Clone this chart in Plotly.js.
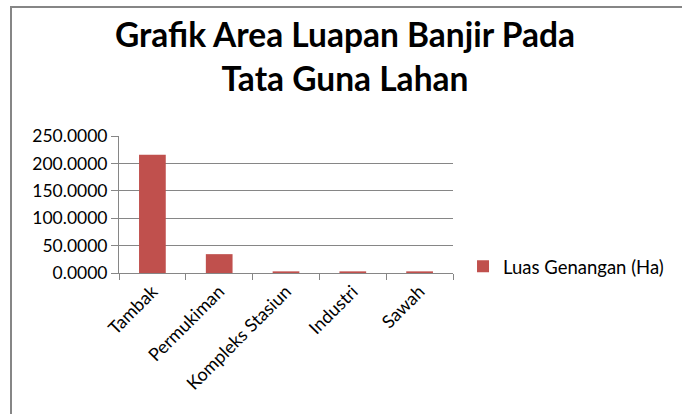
<!DOCTYPE html>
<html>
<head>
<meta charset="utf-8">
<script src="https://cdn.plot.ly/plotly-3.0.1.min.js"></script>
<style>
html,body{margin:0;padding:0;background:#fff;}
#wrap{position:relative;width:682px;height:414px;overflow:hidden;}
#frame{position:absolute;left:10px;top:6px;width:700px;height:440px;border-left:2px solid #868686;border-top:2px solid #868686;box-sizing:border-box;}
#chart{position:absolute;left:0;top:0;width:682px;height:414px;}
</style>
</head>
<body>
<div id="wrap"><div id="frame"></div><div id="chart"></div></div>
<script>
const categories = ["Tambak", "Permukiman", "Kompleks Stasiun", "Industri", "Sawah"];
const luasGenangan = [216.0, 34.4, 3.0, 3.0, 3.0];
const yTickVals = [0, 50, 100, 150, 200, 250];
const yTickText = ["0.0000", "50.0000", "100.0000", "150.0000", "200.0000", "250.0000"];
const seriesName = "Luas Genangan (Ha)";
const chartTitle = "<b>Grafik Area Luapan Banjir Pada<br>Tata Guna Lahan</b>";

const font = "Lato, 'Open Sans', sans-serif";

Plotly.newPlot("chart", [{
  type: "bar",
  x: categories,
  y: luasGenangan,
  name: seriesName,
  marker: {color: "#C0504D"},
  showlegend: true
}], {
  width: 682, height: 414,
  paper_bgcolor: "rgba(0,0,0,0)",
  plot_bgcolor: "rgba(0,0,0,0)",
  margin: {l: 119, r: 229, t: 136, b: 141},
  bargap: 0.6,
  font: {family: font, size: 18, color: "#000"},
  annotations: [{
    text: chartTitle,
    xref: "paper", yref: "paper",
    x: 0.677, y: 1.585, xanchor: "center", yanchor: "middle",
    showarrow: false,
    font: {family: font, size: 33.5, color: "#000"}
  }],
  xaxis: {
    type: "category",
    tickangle: -45,
    showline: true, linecolor: "#868686", linewidth: 1,
    ticks: "outside", ticklen: 6, tickcolor: "#868686",
    tickson: "boundaries",
    showgrid: false,
    tickfont: {family: font, size: 18, color: "#000"}
  },
  yaxis: {
    range: [0, 250],
    tickvals: yTickVals, ticktext: yTickText,
    showline: true, linecolor: "#868686", linewidth: 1,
    ticks: "outside", ticklen: 7, tickcolor: "#868686",
    showgrid: true, gridcolor: "#868686", gridwidth: 1,
    zeroline: false,
    tickfont: {family: font, size: 17.5, color: "#000"}
  },
  legend: {
    x: 1.03, xanchor: "left",
    y: 0.045, yanchor: "middle",
    font: {family: font, size: 18.5, color: "#000"},
    bgcolor: "rgba(0,0,0,0)"
  }
}, {staticPlot: true, displayModeBar: false});
</script>
</body>
</html>
